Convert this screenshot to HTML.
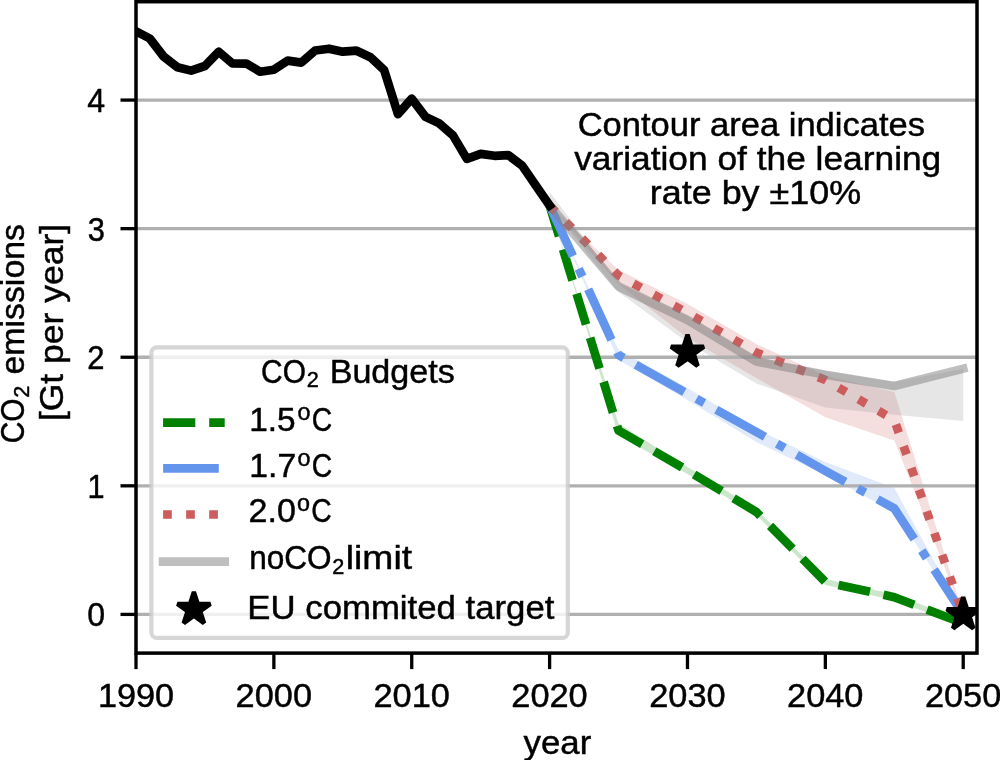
<!DOCTYPE html>
<html><head><meta charset="utf-8"><style>
html,body{margin:0;padding:0;background:#fff;}
svg{display:block;}
text{font-family:"Liberation Sans",sans-serif;white-space:pre;stroke:#000;stroke-width:0.45px;}
svg{will-change:transform;}
</style></head><body>
<svg width="1000" height="760" viewBox="0 0 1000 760">
<rect x="0" y="0" width="1000" height="760" fill="#fff"/>
<defs><clipPath id="ax"><rect x="136" y="1.7" width="841.0" height="651.4"/></clipPath></defs>
<g clip-path="url(#ax)">
<polygon points="549.6,205.5 618.5,423.5 687.5,467.0 756.4,509.0 825.4,579.0 894.3,594.3 963.2,620.5 963.2,626.0 894.3,600.3 825.4,585.0 756.4,515.0 687.5,474.0 618.5,435.5 549.6,205.5" fill="#008000" fill-opacity="0.2"/>
<polygon points="549.6,205.5 618.5,350.0 687.5,388.0 756.4,429.0 825.4,462.0 894.3,488.0 963.2,614.4 963.2,614.4 894.3,512.0 825.4,475.0 756.4,442.0 687.5,400.0 618.5,360.0 549.6,205.5" fill="#6495ED" fill-opacity="0.2"/>
<polygon points="549.6,205.5 618.5,270.0 687.5,304.0 756.4,344.0 825.4,376.0 894.3,392.0 963.2,614.4 963.2,614.4 894.3,440.4 825.4,417.2 756.4,378.0 687.5,338.0 618.5,284.0 549.6,205.5" fill="#CD5C5C" fill-opacity="0.2"/>
<polygon points="549.6,192.0 618.5,283.0 687.5,316.0 756.4,357.0 825.4,371.0 894.3,382.0 963.2,368.7 963.2,421.0 894.3,414.8 825.4,407.6 756.4,383.6 687.5,342.5 618.5,292.0 549.6,205.5" fill="#808080" fill-opacity="0.2"/>
<line x1="136.0" x2="977.0" y1="614.40" y2="614.40" stroke="#b0b0b0" stroke-width="3.3"/>
<line x1="136.0" x2="977.0" y1="485.82" y2="485.82" stroke="#b0b0b0" stroke-width="3.3"/>
<line x1="136.0" x2="977.0" y1="357.24" y2="357.24" stroke="#b0b0b0" stroke-width="3.3"/>
<line x1="136.0" x2="977.0" y1="228.66" y2="228.66" stroke="#b0b0b0" stroke-width="3.3"/>
<line x1="136.0" x2="977.0" y1="100.08" y2="100.08" stroke="#b0b0b0" stroke-width="3.3"/>
<polyline points="549.6,205.5 618.5,430.5 687.5,470.5 756.4,512.0 825.4,582.0 894.3,597.2 963.2,623.3" fill="none" stroke="#008000" stroke-width="8.7" stroke-linejoin="round" stroke-linecap="butt" stroke-dasharray="32.19 13.92"/>
<polyline points="549.6,205.5 618.5,355.0 687.5,393.7 756.4,432.0 825.4,471.0 894.3,508.4 963.2,614.4" fill="none" stroke="#6495ED" stroke-width="8.7" stroke-linejoin="round" stroke-linecap="butt" stroke-dasharray="55.68 13.92 8.70 13.92"/>
<polyline points="549.6,205.5 618.5,275.5 687.5,313.0 756.4,352.5 825.4,380.0 894.3,420.0 963.2,614.4" fill="none" stroke="#CD5C5C" stroke-width="8.7" stroke-linejoin="round" stroke-linecap="butt" stroke-dasharray="8.70 14.35"/>
<polyline points="549.6,205.5 618.5,286.5 687.5,320.0 756.4,361.5 825.4,374.8 894.3,386.0 963.2,368.7" fill="none" stroke="#808080" stroke-width="8.7" stroke-linejoin="round" stroke-linecap="square" stroke-opacity="0.5"/>
<polyline points="136.0,31.4 149.8,38.5 163.6,56.5 177.4,67.2 191.1,70.6 204.9,66.0 218.7,51.8 232.5,63.5 246.3,63.6 260.1,71.7 273.9,69.7 287.7,60.6 301.4,62.6 315.2,50.5 329.0,48.7 342.8,51.7 356.6,50.7 370.4,57.2 384.2,70.2 398.0,114.2 411.7,98.7 425.5,116.9 439.3,123.4 453.1,135.6 466.9,158.9 480.7,153.9 494.5,155.8 508.2,155.1 522.0,165.4 535.8,185.5 549.6,205.5" fill="none" stroke="#000" stroke-width="8.7" stroke-linejoin="round" stroke-linecap="square"/>
<polygon points="687.5,334.7 683.6,346.7 671.0,346.7 681.2,354.0 677.3,366.0 687.5,358.6 697.6,366.0 693.8,354.0 703.9,346.7 691.4,346.7" fill="#000" stroke="#000" stroke-width="4.4" stroke-linejoin="bevel"/>
<polygon points="963.2,597.1 959.3,609.1 946.8,609.1 956.9,616.4 953.1,628.4 963.2,621.0 973.4,628.4 969.5,616.4 979.7,609.1 967.1,609.1" fill="#000" stroke="#000" stroke-width="4.4" stroke-linejoin="bevel"/>
</g>
<rect x="136.0" y="1.7" width="841.00" height="651.40" fill="none" stroke="#000" stroke-width="3.5" stroke-linejoin="miter"/>
<line x1="120.5" x2="136.0" y1="614.40" y2="614.40" stroke="#000" stroke-width="3.3"/>
<line x1="120.5" x2="136.0" y1="485.82" y2="485.82" stroke="#000" stroke-width="3.3"/>
<line x1="120.5" x2="136.0" y1="357.24" y2="357.24" stroke="#000" stroke-width="3.3"/>
<line x1="120.5" x2="136.0" y1="228.66" y2="228.66" stroke="#000" stroke-width="3.3"/>
<line x1="120.5" x2="136.0" y1="100.08" y2="100.08" stroke="#000" stroke-width="3.3"/>
<line x1="136.00" x2="136.00" y1="653.1" y2="669.1" stroke="#000" stroke-width="3.3"/>
<line x1="273.87" x2="273.87" y1="653.1" y2="669.1" stroke="#000" stroke-width="3.3"/>
<line x1="411.74" x2="411.74" y1="653.1" y2="669.1" stroke="#000" stroke-width="3.3"/>
<line x1="549.61" x2="549.61" y1="653.1" y2="669.1" stroke="#000" stroke-width="3.3"/>
<line x1="687.48" x2="687.48" y1="653.1" y2="669.1" stroke="#000" stroke-width="3.3"/>
<line x1="825.35" x2="825.35" y1="653.1" y2="669.1" stroke="#000" stroke-width="3.3"/>
<line x1="963.22" x2="963.22" y1="653.1" y2="669.1" stroke="#000" stroke-width="3.3"/>
<text x="97.93" y="706.80" font-size="32.32" textLength="76.19" lengthAdjust="spacingAndGlyphs" fill="#000">1990</text>
<text x="235.57" y="706.80" font-size="32.32" textLength="76.43" lengthAdjust="spacingAndGlyphs" fill="#000">2000</text>
<text x="373.44" y="706.80" font-size="32.32" textLength="76.43" lengthAdjust="spacingAndGlyphs" fill="#000">2010</text>
<text x="511.31" y="706.80" font-size="32.32" textLength="76.43" lengthAdjust="spacingAndGlyphs" fill="#000">2020</text>
<text x="649.18" y="706.80" font-size="32.32" textLength="76.43" lengthAdjust="spacingAndGlyphs" fill="#000">2030</text>
<text x="787.05" y="706.80" font-size="32.32" textLength="76.43" lengthAdjust="spacingAndGlyphs" fill="#000">2040</text>
<text x="924.92" y="706.80" font-size="32.32" textLength="76.43" lengthAdjust="spacingAndGlyphs" fill="#000">2050</text>
<text x="87.35" y="626.30" font-size="32.32" textLength="17.88" lengthAdjust="spacingAndGlyphs" fill="#000">0</text>
<text x="87.61" y="497.72" font-size="32.32" textLength="17.08" lengthAdjust="spacingAndGlyphs" fill="#000">1</text>
<text x="87.27" y="369.14" font-size="32.32" textLength="17.24" lengthAdjust="spacingAndGlyphs" fill="#000">2</text>
<text x="87.74" y="240.56" font-size="32.32" textLength="17.17" lengthAdjust="spacingAndGlyphs" fill="#000">3</text>
<text x="87.35" y="111.98" font-size="32.32" textLength="17.88" lengthAdjust="spacingAndGlyphs" fill="#000">4</text>
<text x="523.50" y="753.50" font-size="32.32" textLength="67.80" lengthAdjust="spacingAndGlyphs" fill="#000">year</text>
<g transform="rotate(-90)">
<text x="-421.13" y="63.20" font-size="32.32" textLength="197.31" lengthAdjust="spacingAndGlyphs" fill="#000">[Gt per year]</text>
<text x="-443.22" y="23.70" font-size="32.32" textLength="44.83" lengthAdjust="spacingAndGlyphs" fill="#000">CO</text>
<text x="-397.64" y="28.50" font-size="22.62" textLength="12.06" lengthAdjust="spacingAndGlyphs" fill="#000">2</text>
<text x="-384.00" y="23.70" font-size="32.32" textLength="159.99" lengthAdjust="spacingAndGlyphs" fill="#000"> emissions</text>
</g>
<text x="577.65" y="136.00" font-size="32.32" textLength="347.36" lengthAdjust="spacingAndGlyphs" fill="#000">Contour area indicates</text>
<text x="574.18" y="170.00" font-size="32.32" textLength="367.09" lengthAdjust="spacingAndGlyphs" fill="#000">variation of the learning</text>
<text x="649.82" y="204.00" font-size="32.32" textLength="211.31" lengthAdjust="spacingAndGlyphs" fill="#000">rate by ±10%</text>
<rect x="151.4" y="347.3" width="416.4" height="290.6" rx="5.5" ry="5.5" fill="#fff" fill-opacity="0.8" stroke="#cccccc" stroke-opacity="0.8" stroke-width="4.2"/>
<text x="261.08" y="382.60" font-size="32.32" textLength="44.83" lengthAdjust="spacingAndGlyphs" fill="#000">CO</text>
<text x="306.66" y="387.40" font-size="22.62" textLength="12.06" lengthAdjust="spacingAndGlyphs" fill="#000">2</text>
<text x="320.19" y="382.60" font-size="32.32" textLength="134.61" lengthAdjust="spacingAndGlyphs" fill="#000"> Budgets</text>
<text x="249.26" y="431.20" font-size="32.32" textLength="46.44" lengthAdjust="spacingAndGlyphs" fill="#000">1.5</text>
<text x="297.49" y="419.90" font-size="23.27" textLength="12.98" lengthAdjust="spacingAndGlyphs" fill="#000">o</text>
<text x="311.66" y="431.20" font-size="32.32" textLength="20.45" lengthAdjust="spacingAndGlyphs" fill="#000">C</text>
<text x="249.34" y="477.00" font-size="32.32" textLength="46.81" lengthAdjust="spacingAndGlyphs" fill="#000">1.7</text>
<text x="297.59" y="465.70" font-size="23.27" textLength="12.98" lengthAdjust="spacingAndGlyphs" fill="#000">o</text>
<text x="311.76" y="477.00" font-size="32.32" textLength="20.45" lengthAdjust="spacingAndGlyphs" fill="#000">C</text>
<text x="248.59" y="522.30" font-size="32.32" textLength="47.29" lengthAdjust="spacingAndGlyphs" fill="#000">2.0</text>
<text x="297.10" y="511.00" font-size="23.27" textLength="12.98" lengthAdjust="spacingAndGlyphs" fill="#000">o</text>
<text x="311.28" y="522.30" font-size="32.32" textLength="20.45" lengthAdjust="spacingAndGlyphs" fill="#000">C</text>
<text x="249.20" y="569.20" font-size="32.32" textLength="82.42" lengthAdjust="spacingAndGlyphs" fill="#000">noCO</text>
<text x="332.30" y="574.00" font-size="22.62" textLength="12.06" lengthAdjust="spacingAndGlyphs" fill="#000">2</text>
<text x="345.77" y="569.20" font-size="32.32" textLength="66.27" lengthAdjust="spacingAndGlyphs" fill="#000">limit</text>
<text x="247.35" y="619.20" font-size="32.32" textLength="307.05" lengthAdjust="spacingAndGlyphs" fill="#000">EU commited target</text>
<line x1="163.1" x2="224.7" y1="422.7" y2="422.7" stroke="#008000" stroke-width="8.7" stroke-dasharray="32.19 13.92"/>
<line x1="163.1" x2="224.7" y1="468.3" y2="468.3" stroke="#6495ED" stroke-width="8.7" stroke-dasharray="55.68 13.92 8.70 13.92"/>
<line x1="163.1" x2="224.7" y1="514.5" y2="514.5" stroke="#CD5C5C" stroke-width="8.7" stroke-dasharray="8.70 14.35"/>
<line x1="163.1" x2="224.7" y1="561.6" y2="561.6" stroke="#808080" stroke-opacity="0.5" stroke-width="8.7" stroke-linecap="square"/>
<polygon points="193.9,591.9 190.0,603.9 177.4,603.9 187.6,611.2 183.7,623.2 193.9,615.8 204.1,623.2 200.2,611.2 210.4,603.9 197.8,603.9" fill="#000" stroke="#000" stroke-width="4.4" stroke-linejoin="bevel"/>
</svg>
</body></html>
